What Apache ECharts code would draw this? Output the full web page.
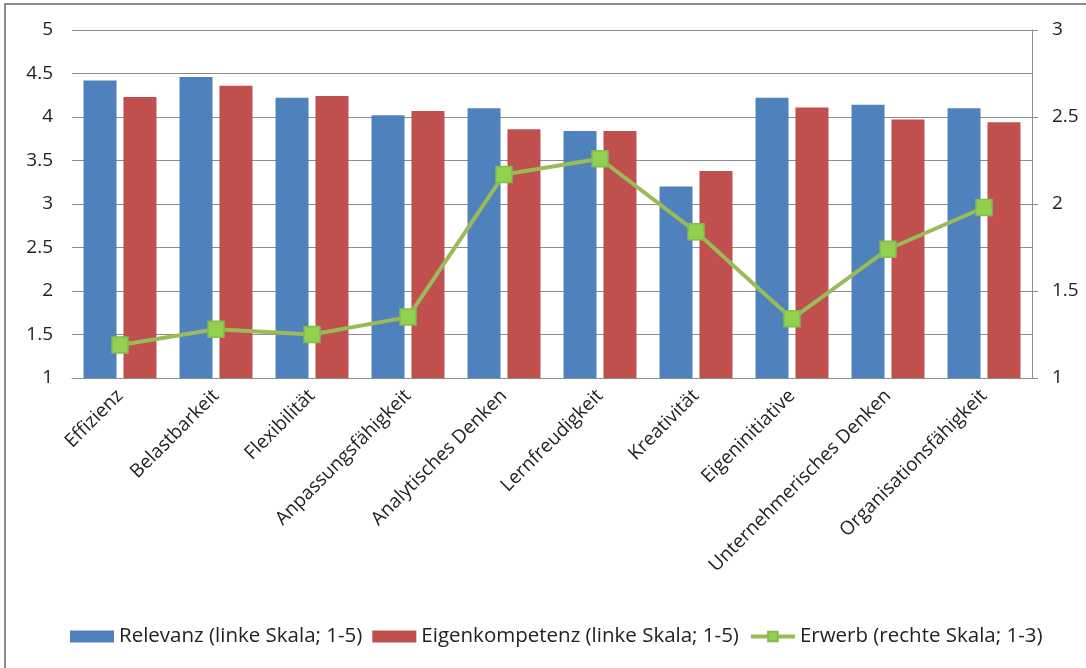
<!DOCTYPE html>
<html>
<head>
<meta charset="utf-8">
<script src="https://cdn.jsdelivr.net/npm/echarts@6/dist/echarts.min.js"></script>
<style>
  html, body { margin: 0; padding: 0; background: #fff; }
  #chart { width: 1086px; height: 668px; }
</style>
</head>
<body>
<div id="chart"></div>
<script>
// Kompetenzen
const categories = ['Effizienz', 'Belastbarkeit', 'Flexibilität', 'Anpassungsfähigkeit',
  'Analytisches Denken', 'Lernfreudigkeit', 'Kreativität', 'Eigeninitiative',
  'Unternehmerisches Denken', 'Organisationsfähigkeit'];

// Relevanz (linke Skala; 1-5)
const relevanz = [4.42, 4.46, 4.22, 4.02, 4.10, 3.84, 3.20, 4.22, 4.14, 4.10];
// Eigenkompetenz (linke Skala; 1-5)
const eigenkompetenz = [4.23, 4.36, 4.24, 4.07, 3.86, 3.84, 3.38, 4.11, 3.97, 3.94];
// Erwerb (rechte Skala; 1-3)
const erwerb = [1.19, 1.28, 1.25, 1.35, 2.17, 2.26, 1.84, 1.34, 1.74, 1.98];

const leftTicks = { min: 1, max: 5, interval: 0.5 };
const rightTicks = { min: 1, max: 3, interval: 0.5 };

const font = '"Open Sans", Lato, sans-serif';
const chart = echarts.init(document.getElementById('chart'), null, { renderer: 'canvas' });

chart.setOption({
  animation: false,
  backgroundColor: '#ffffff',
  graphic: [{
    type: 'rect',
    shape: { x: 5, y: 4, width: 1200, height: 800 },
    style: { fill: 'none', stroke: '#8c8c8c', lineWidth: 2 },
    silent: true,
    z: -1
  }],
  grid: { left: 72, right: 54, top: 30, bottom: 290 },
  legend: {
    top: 621,
    left: 65,
    itemWidth: 44,
    itemHeight: 12,
    itemGap: 10,
    textStyle: { fontFamily: font, fontSize: 20.5, color: '#222' },
    data: [
      { name: 'Relevanz (linke Skala; 1-5)', icon: 'rect' },
      { name: 'Eigenkompetenz (linke Skala; 1-5)', icon: 'rect' },
      { name: 'Erwerb (rechte Skala; 1-3)', lineStyle: { width: 4, color: '#9bbb59' } }
    ]
  },
  xAxis: {
    type: 'category',
    data: categories,
    axisLine: { show: true, lineStyle: { color: '#8c8c8c', width: 1 } },
    axisTick: { show: false },
    axisLabel: {
      rotate: 45,
      interval: 0,
      margin: 15,
      fontFamily: font,
      fontSize: 19,
      color: '#222'
    }
  },
  yAxis: [{
    type: 'value',
    min: leftTicks.min, max: leftTicks.max, interval: leftTicks.interval,
    axisLine: { show: false },
    axisTick: { show: false },
    splitLine: { show: true, lineStyle: { color: '#8c8c8c', width: 1 } },
    axisLabel: { fontFamily: font, fontSize: 19, color: '#222', margin: 19 }
  }, {
    type: 'value',
    position: 'right',
    min: rightTicks.min, max: rightTicks.max, interval: rightTicks.interval,
    axisLine: { show: true, lineStyle: { color: '#8c8c8c', width: 1 } },
    axisTick: { show: true, length: 6, inside: false, lineStyle: { color: '#8c8c8c' } },
    splitLine: { show: false },
    axisLabel: { fontFamily: font, fontSize: 19, color: '#222', margin: 20 }
  }],
  series: [{
    name: 'Relevanz (linke Skala; 1-5)',
    type: 'bar',
    yAxisIndex: 0,
    data: relevanz,
    barWidth: 33,
    barGap: '21%',
    itemStyle: { color: '#4f81bd' }
  }, {
    name: 'Eigenkompetenz (linke Skala; 1-5)',
    type: 'bar',
    yAxisIndex: 0,
    data: eigenkompetenz,
    barWidth: 33,
    barGap: '21%',
    itemStyle: { color: '#c0504d' }
  }, {
    name: 'Erwerb (rechte Skala; 1-3)',
    type: 'line',
    yAxisIndex: 1,
    data: erwerb,
    symbol: 'rect',
    symbolSize: 16,
    showAllSymbol: true,
    lineStyle: { color: '#9bbb59', width: 4 },
    itemStyle: { color: '#92d050', borderColor: '#84bb4c', borderWidth: 1.5 },
    z: 5
  }]
});
</script>
</body>
</html>
